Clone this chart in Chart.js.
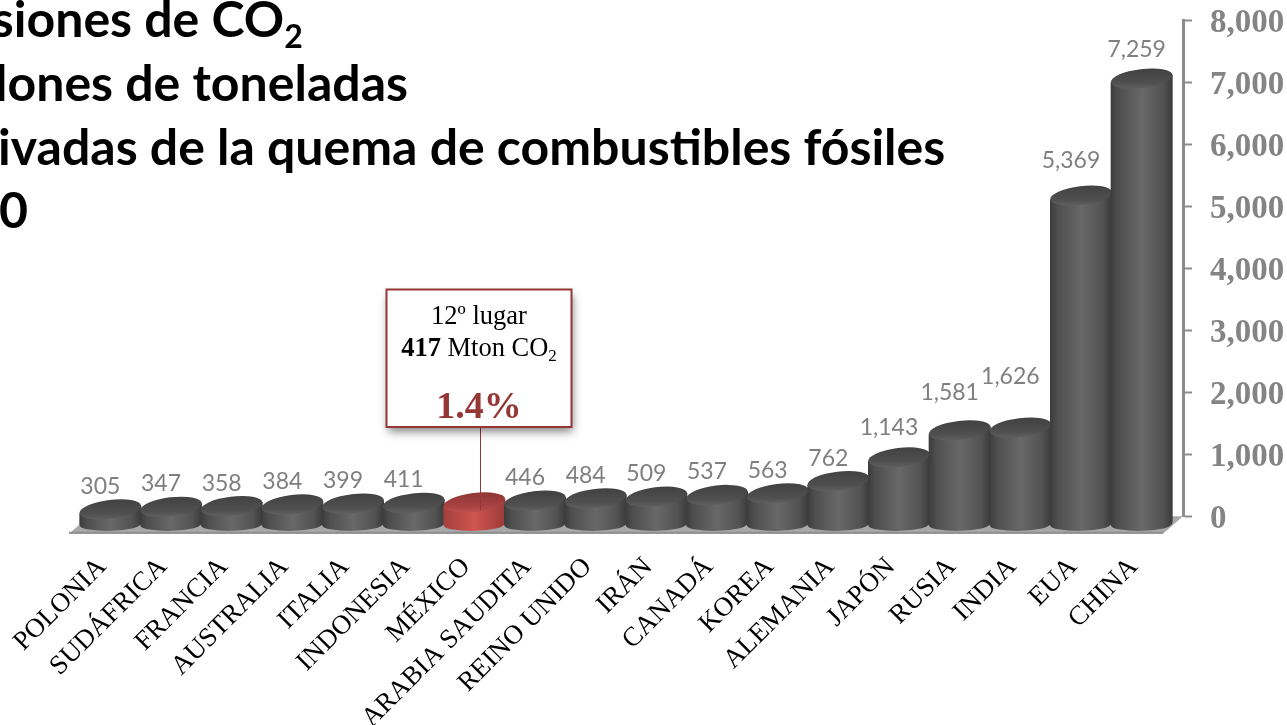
<!DOCTYPE html>
<html>
<head>
<meta charset="utf-8">
<title>Emisiones de CO2</title>
<script src="https://cdn.jsdelivr.net/npm/chart.js@4"></script>
<style>
  html, body { margin: 0; padding: 0; background: #fff; overflow: hidden; }
  canvas { display: block; }
</style>
</head>
<body>
<canvas id="co2Chart" width="1287" height="725"></canvas>
<script>
const countries = ['POLONIA', 'SUDÁFRICA', 'FRANCIA', 'AUSTRALIA', 'ITALIA', 'INDONESIA', 'MÉXICO', 'ARABIA SAUDITA', 'REINO UNIDO', 'IRÁN', 'CANADÁ', 'KOREA', 'ALEMANIA', 'JAPÓN', 'RUSIA', 'INDIA', 'EUA', 'CHINA'];
const emissions = [305, 347, 358, 384, 399, 411, 417, 446, 484, 509, 537, 563, 762, 1143, 1581, 1626, 5369, 7259];
const titleLines = ['Emisiones de CO', 'Millones de toneladas', 'Derivadas de la quema de combustibles fósiles', '2010'];
const highlighted = 'MÉXICO';
const calloutRank = '12º lugar';
const calloutValue = '417';
const calloutUnit = ' Mton CO';
const calloutShare = '1.4%';

const SERIF = '"Liberation Serif", serif';
const SANS = 'Lato, sans-serif';
const DROP = 12; // the 3d bars sit a bit lower than the axis says

const fmt = v => v.toLocaleString('en-US');

function bodyGradient(ctx, x0, x1, red) {
    const g = ctx.createLinearGradient(x0, 0, x1, 0);
    if (red) {
        g.addColorStop(0, '#a33f3d');
        g.addColorStop(0.5, '#cf5551');
        g.addColorStop(1, '#9b3a38');
    } else {
        g.addColorStop(0, '#3c3c3c');
        g.addColorStop(0.12, '#4e4e4e');
        g.addColorStop(0.5, '#686868');
        g.addColorStop(0.85, '#525252');
        g.addColorStop(1, '#3a3a3a');
    }
    return g;
}

function topGradient(ctx, y0, y1, red) {
    const g = ctx.createLinearGradient(0, y0, 0, y1);
    if (red) {
        g.addColorStop(0, '#8c3533');
        g.addColorStop(0.7, '#a94442');
        g.addColorStop(1, '#c05553');
    } else {
        g.addColorStop(0, '#404040');
        g.addColorStop(0.7, '#505050');
        g.addColorStop(1, '#646464');
    }
    return g;
}

// cylinders are drawn from the bar elements chart.js laid out
const cylinders = {
    id: 'cylinders',
    beforeDatasetsDraw(chart) {
        const ctx = chart.ctx;
        const xs = chart.scales.x;
        const ys = chart.scales.y;
        const y0 = ys.getPixelForValue(0);

        // floor
        ctx.save();
        ctx.beginPath();
        ctx.moveTo(xs.left - 11, y0 + 17.5);
        ctx.lineTo(xs.right - 9, y0 + 17.5);
        ctx.lineTo(ys.left, y0);
        ctx.lineTo(xs.left + 9, y0);
        ctx.closePath();
        ctx.fillStyle = '#a8a8a8';
        ctx.fill();
        ctx.fillStyle = '#8f8f8f';
        ctx.fillRect(xs.left - 11, y0 + 15.5, xs.right - xs.left + 2, 2);
        ctx.restore();
    },
    afterDatasetsDraw(chart) {
        const ctx = chart.ctx;
        const tilt = -7 * Math.PI / 180;
        chart.getDatasetMeta(0).data.forEach((bar, i) => {
            const red = countries[i] === highlighted;
            const rx = bar.width / 2;
            const ry = 9.5;
            const dy = rx * Math.sin(tilt);
            const cx = bar.x;
            const top = bar.y + DROP;
            const bottom = bar.base + DROP - 1.5;

            ctx.save();
            // side
            ctx.beginPath();
            ctx.moveTo(cx - rx, top - dy);
            ctx.lineTo(cx - rx, bottom - 2);
            ctx.quadraticCurveTo(cx - rx, bottom + 2, cx - rx + 8, bottom + 3);
            ctx.quadraticCurveTo(cx, bottom + 7, cx + rx - 8, bottom + 2);
            ctx.quadraticCurveTo(cx + rx, bottom, cx + rx, bottom - 5);
            ctx.lineTo(cx + rx, top + dy);
            ctx.closePath();
            ctx.fillStyle = bodyGradient(ctx, cx - rx, cx + rx, red);
            ctx.fill();
            // top
            ctx.beginPath();
            ctx.ellipse(cx, top, rx, ry, tilt, 0, Math.PI * 2);
            ctx.fillStyle = topGradient(ctx, top - ry - 2, top + ry + 2, red);
            ctx.fill();
            ctx.restore();
        });
    }
};

// value labels; the hand placed ones in the original sit higher
const labelLift = { 'INDIA': 39, 'RUSIA': 26, 'JAPÓN': 18, 'EUA': 23, 'CHINA': 17 };
const valueLabels = {
    id: 'valueLabels',
    afterDatasetsDraw(chart) {
        const ctx = chart.ctx;
        ctx.save();
        ctx.font = '23px ' + SANS;
        ctx.fillStyle = '#7f7f7f';
        ctx.textAlign = 'center';
        ctx.textBaseline = 'middle';
        chart.getDatasetMeta(0).data.forEach((bar, i) => {
            if (countries[i] === highlighted) return;
            const shift = countries[i] === 'CHINA' ? -5 : -10;
            ctx.fillText(fmt(emissions[i]), bar.x + shift, bar.y - (labelLift[countries[i]] || 11));
        });
        ctx.restore();
    }
};

const callout = {
    id: 'callout',
    afterDatasetsDraw(chart) {
        const ctx = chart.ctx;
        const idx = countries.indexOf(highlighted);
        const bar = chart.getDatasetMeta(0).data[idx];
        const box = { x: 386.5, y: 289.5, w: 185, h: 137.5 };
        const mid = box.x + box.w / 2;

        ctx.save();
        ctx.strokeStyle = '#953735';
        ctx.lineWidth = 1;
        ctx.beginPath();
        ctx.moveTo(Math.round(bar.x) + 6.5, box.y + box.h);
        ctx.lineTo(Math.round(bar.x) + 6.5, bar.y + DROP + 8);
        ctx.stroke();

        ctx.shadowColor = 'rgba(0,0,0,0.5)';
        ctx.shadowBlur = 9;
        ctx.shadowOffsetX = 1;
        ctx.shadowOffsetY = 5;
        ctx.fillStyle = '#fff';
        ctx.fillRect(box.x, box.y, box.w, box.h);
        ctx.shadowColor = 'transparent';
        ctx.lineWidth = 2;
        ctx.strokeRect(box.x, box.y, box.w, box.h);

        ctx.fillStyle = '#000';
        ctx.textBaseline = 'alphabetic';
        ctx.textAlign = 'center';
        ctx.font = '26.5px ' + SERIF;
        ctx.fillText(calloutRank, mid, 324);

        // mixed line: bold value, unit, subscript
        ctx.textAlign = 'left';
        ctx.font = 'bold 26.5px ' + SERIF;
        const w1 = ctx.measureText(calloutValue).width;
        ctx.font = '26.5px ' + SERIF;
        const w2 = ctx.measureText(calloutUnit).width;
        ctx.font = '17px ' + SERIF;
        const w3 = ctx.measureText('2').width;
        let x = mid - (w1 + w2 + w3) / 2;
        ctx.font = 'bold 26.5px ' + SERIF;
        ctx.fillText(calloutValue, x, 356);
        x += w1;
        ctx.font = '26.5px ' + SERIF;
        ctx.fillText(calloutUnit, x, 356);
        x += w2;
        ctx.font = '17px ' + SERIF;
        ctx.fillText('2', x, 361);

        ctx.textAlign = 'center';
        ctx.fillStyle = '#953735';
        ctx.font = 'bold 38px ' + SERIF;
        ctx.fillText(calloutShare, mid, 418);
        ctx.restore();
    }
};

// title runs off the left edge in the original, nudged per line for the font
const titleLeft = [-91, -77, -85, -88];
const titleBase = [37, 101, 165, 228];
const slideTitle = {
    id: 'slideTitle',
    afterDraw(chart) {
        const ctx = chart.ctx;
        ctx.save();
        ctx.fillStyle = '#000';
        ctx.textAlign = 'left';
        ctx.textBaseline = 'alphabetic';
        ctx.font = 'bold 50px ' + SANS;
        titleLines.forEach((t, i) => ctx.fillText(t, titleLeft[i], titleBase[i]));
        const w = ctx.measureText(titleLines[0]).width;
        ctx.font = 'bold 32px ' + SANS;
        ctx.fillText('2', titleLeft[0] + w, titleBase[0] + 11);
        ctx.restore();
    }
};

// y axis stands off to the right of the last bar
const shiftAxis = {
    id: 'shiftAxis',
    afterLayout(chart) {
        chart.scales.y.left += 11;
        chart.scales.y.right += 11;
    }
};

new Chart(document.getElementById('co2Chart'), {
    type: 'bar',
    data: {
        labels: countries,
        datasets: [{
            data: emissions,
            backgroundColor: 'rgba(0,0,0,0)',
            barThickness: 62
        }]
    },
    plugins: [shiftAxis, cylinders, valueLabels, callout, slideTitle],
    options: {
        responsive: false,
        animation: false,
        layout: { autoPadding: false, padding: { left: 80, top: 20.7 } },
        plugins: { legend: { display: false }, tooltip: { enabled: false } },
        scales: {
            x: {
                afterFit(s) {
                    s.height = 208.7;
                    s.paddingLeft = 0;
                    s.paddingRight = 0;
                },
                border: { display: false },
                grid: { display: false },
                ticks: {
                    autoSkip: false,
                    minRotation: 45,
                    maxRotation: 45,
                    padding: 27,
                    labelOffset: -8,
                    color: '#000',
                    font: { family: SERIF, size: 27 }
                }
            },
            y: {
                position: 'right',
                min: 0,
                max: 8000,
                afterFit(s) {
                    s.width = 115;
                    s.paddingTop = 0;
                    s.paddingBottom = 0;
                },
                border: { color: '#8c8c8c', width: 3 },
                grid: { drawOnChartArea: false, tickLength: 9, tickColor: '#8c8c8c', tickWidth: 2 },
                ticks: {
                    stepSize: 1000,
                    padding: 18,
                    labelOffset: 3,
                    color: '#848484',
                    font: { family: SERIF, size: 33, weight: 'bold' },
                    callback: v => fmt(v)
                }
            }
        }
    }
});
</script>
</body>
</html>
